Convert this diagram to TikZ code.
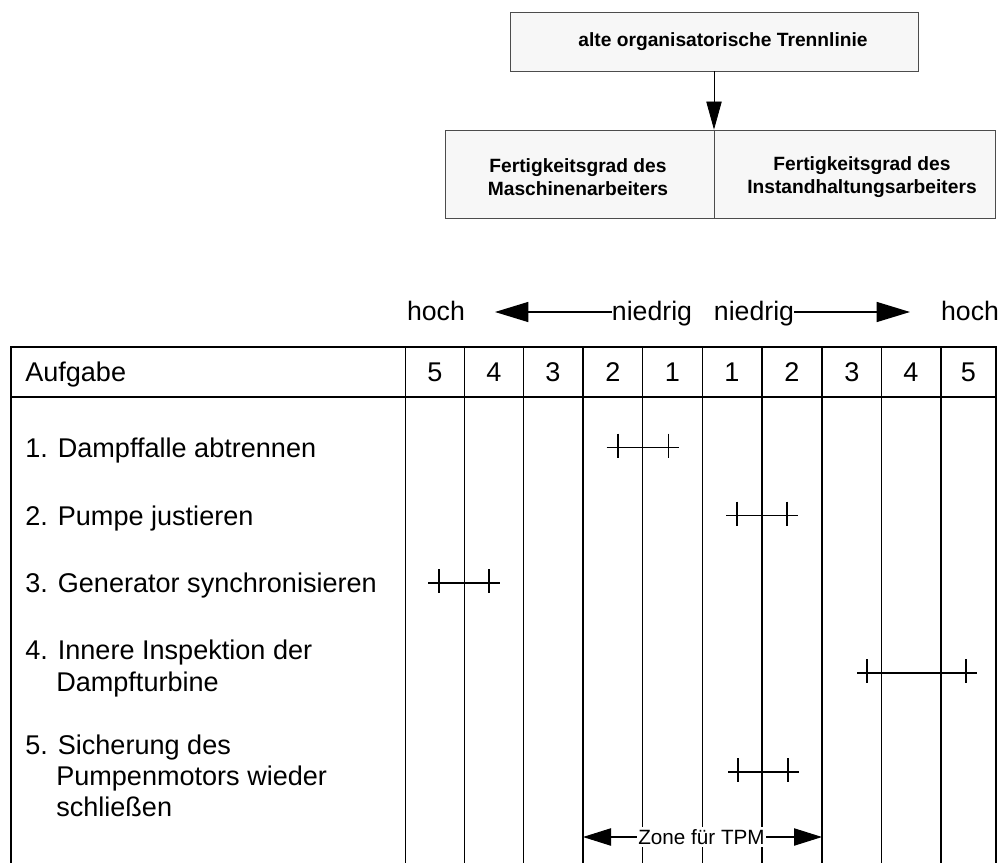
\documentclass[tikz,border=0pt]{standalone}
\usepackage{fontspec}
\setmainfont{Liberation Sans}
\usetikzlibrary{arrows.meta}
\begin{document}
\begin{tikzpicture}[x=0.75pt,y=-0.75pt,
  every node/.style={inner sep=0pt},
  txt/.style={font=\fontsize{20.3}{24}\selectfont},
  scl/.style={font=\fontsize{20}{24}\selectfont},
  boxtxt/.style={font=\fontsize{14.4}{17.3}\selectfont\bfseries, align=center},
  tbox/.style={draw=black!70, line width=0.6pt, fill=black!3},
  grid/.style={line width=1.2pt, black},
  bar/.style={line width=1.4pt, black},
  tick/.style={line width=1.1pt, black},
  harrow/.style={line width=1pt, -{Triangle[length=25pt,width=15pt]}},
  zarrow/.style={line width=0.8pt, -{Triangle[length=21pt,width=13pt]}},
  darrow/.style={line width=0.6pt, -{Triangle[length=21pt,width=11.5pt]}}
]
\useasboundingbox (0,0) rectangle (1000,863);

% top boxes
\node[tbox, minimum width=306pt, minimum height=44.25pt] (topbox) at (714,41.5) {};
\node[boxtxt] (toptxt) at (723,41.5) {alte organisatorische Trennlinie};
\node[tbox, minimum width=201.75pt, minimum height=66pt] (leftbox) at (579.5,174) {};
\node[tbox, minimum width=210.75pt, minimum height=66pt] (rightbox) at (854.5,174) {};
\node[boxtxt] (lefttxt) at (578,177) {Fertigkeitsgrad des\\Maschinenarbeiters};
\node[boxtxt] (righttxt) at (862,177) {Fertigkeitsgrad des\\Instandhaltungsarbeiters};
\draw[darrow] (topbox.south) -- (topbox.south |- leftbox.north);

% scale row
\node[scl, anchor=base] (hochL) at (436,320) {hoch};
\node[scl, anchor=base] (niedL) at (652,320) {niedrig};
\node[scl, anchor=base] (niedR) at (754,320) {niedrig};
\node[scl, anchor=base] (hochR) at (970,320) {hoch};
\coordinate (tipL) at (495,312);
\coordinate (tipR) at (910,312);
\draw[harrow] (niedL.west |- tipL) -- (tipL);
\draw[harrow] (niedR.east |- tipR) -- (tipR);

% table grid
\draw[grid] (11,863) -- (11,347) -- (996,347) -- (996,863);
\draw[grid] (11,397) -- (996,397);
\foreach \x in {405.5,464.5,523.5,583,642.5,702.5,762,822,881.5,941}
  \draw[grid] (\x,347) -- (\x,863);

% header
\node[txt, anchor=base west] (hdr) at (25,381.5) {Aufgabe};
\foreach \x/\n [count=\i] in {435/5,494/4,553/3,613/2,672.5/1,732/1,792/2,852/3,911/4,968.5/5}
  \node[txt, anchor=base] (h\i) at (\x,381.5) {\n};

% task labels
\node[txt, anchor=base west] (t1) at (25,457) {1. Dampffalle abtrennen};
\node[txt, anchor=base west] (t2) at (25,525) {2. Pumpe justieren};
\node[txt, anchor=base west] (t3) at (25,592.5) {3. Generator synchronisieren};
\node[txt, anchor=base west] (t4a) at (25,659) {4. Innere Inspektion der};
\node[txt, anchor=base west] (t4b) at (56,691) {Dampfturbine};
\node[txt, anchor=base west] (t5a) at (25,754.5) {5. Sicherung des};
\node[txt, anchor=base west] (t5b) at (56,785.5) {Pumpenmotors wieder};
\node[txt, anchor=base west] (t5c) at (56,816.5) {schließen};

% bars
\foreach \y/\a/\b/\c/\d in {447.5/606.5/679/618/668.5, 515.5/726/798/737/787, 583/428/500/439/489, 673/857/977/867/966, 772/728/799/738/788}{
  \draw[bar] (\a,\y) -- (\b,\y);
  \draw[tick] (\c,\y-14) -- (\c,\y+10);
  \draw[tick] (\d,\y-14) -- (\d,\y+10);
}

% zone for TPM
\node[font=\fontsize{15.5}{18}\selectfont, fill=white, inner xsep=1pt, inner ysep=2pt] (zone) at (701.5,837) {Zone für TPM};
\coordinate (zl) at (583,837);
\coordinate (zr) at (822,837);
\draw[zarrow] (zone.west) -- (zl);
\draw[zarrow] (zone.east) -- (zr);
\end{tikzpicture}
\end{document}
